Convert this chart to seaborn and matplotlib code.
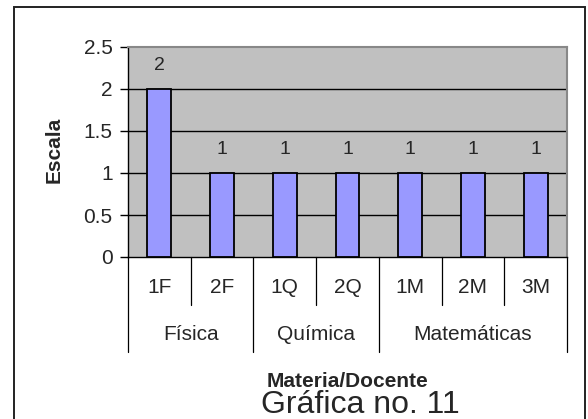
import matplotlib
matplotlib.use("Agg")
import matplotlib.pyplot as plt
import matplotlib.transforms as mtransforms
from matplotlib.patches import Rectangle
import seaborn as sns
import pandas as pd

docentes = ["1F", "2F", "1Q", "2Q", "1M", "2M", "3M"]
valores = [2, 1, 1, 1, 1, 1, 1]
materias = ["Física", "Química", "Matemáticas"]
docentes_por_materia = [2, 2, 3]
y_ticks = [0, 0.5, 1, 1.5, 2, 2.5]
y_tick_labels = ["0", "0.5", "1", "1.5", "2", "2.5"]
titulo = "Gráfica no. 11"
x_label = "Materia/Docente"
y_label = "Escala"

sns.set_style("white")
plt.rcParams["font.family"] = ["Liberation Sans", "DejaVu Sans"]

df = pd.DataFrame({"docente": docentes, "valor": valores})

W, H = 588, 419
fig = plt.figure(figsize=(W / 100, H / 100), dpi=100)
ax = fig.add_axes([128 / W, 1 - 257 / H, (567 - 128) / W, (257 - 47) / H])

# outer chart border
fig.patches.append(Rectangle((14 / W, -0.02), (585 - 14) / W, 1 - 7 / H + 0.02,
                             transform=fig.transFigure, fill=False,
                             edgecolor="#222222", linewidth=1.4, zorder=10))

ax.set_facecolor("#C0C0C0")
sns.barplot(data=df, x="docente", y="valor", color="#9999FF", saturation=1,
            width=0.38, edgecolor="black", linewidth=1.3, ax=ax, zorder=3)

ax.set_ylim(0, 2.5)
ax.set_xlim(-0.5, len(docentes) - 0.5)
ax.set_yticks(y_ticks)
ax.set_yticklabels(y_tick_labels, fontsize=15)
for yv in y_ticks[1:-1]:
    ax.axhline(yv, color="black", linewidth=1.0, zorder=1)
ax.tick_params(axis="y", direction="out", length=6, width=1, color="black", pad=5, left=True)
ax.tick_params(axis="x", bottom=False, labelbottom=False)
ax.set_xlabel("")
ax.set_ylabel("")

for s in ["top", "right"]:
    ax.spines[s].set_color("#888888")
    ax.spines[s].set_linewidth(1.5)
for s in ["left", "bottom"]:
    ax.spines[s].set_color("black")
    ax.spines[s].set_linewidth(1.0)

# value labels
for i, v in enumerate(valores):
    ax.annotate(str(v), (i, v), xytext=(0, 17), textcoords="offset points",
                ha="center", va="center", fontsize=14)

# multi-level category axis
trans = mtransforms.blended_transform_factory(ax.transData, ax.transAxes)
for i, d in enumerate(docentes):
    ax.text(i, -0.143, d, transform=trans, ha="center", va="center", fontsize=15, clip_on=False)

bounds = [-0.5]
for n in docentes_por_materia:
    bounds.append(bounds[-1] + n)
group_bounds = set(bounds)
for k in range(len(docentes) + 1):
    xb = k - 0.5
    low = -0.452 if xb in group_bounds else -0.229
    ax.plot([xb, xb], [0, low], transform=trans, color="black", linewidth=0.9, clip_on=False)

for j, m in enumerate(materias):
    xc = (bounds[j] + bounds[j + 1]) / 2
    ax.text(xc, -0.371, m, transform=trans, ha="center", va="center", fontsize=15, clip_on=False)

fig.text(347 / W, 1 - 381 / H, x_label, ha="center", va="center", fontsize=15, fontweight="bold")
fig.text(360 / W, 1 - 405 / H, titulo, ha="center", va="center", fontsize=23)
fig.text(54 / W, 1 - 150 / H, y_label, ha="center", va="center", fontsize=15,
         fontweight="bold", rotation=90)

fig.savefig("out.png", dpi=100)
